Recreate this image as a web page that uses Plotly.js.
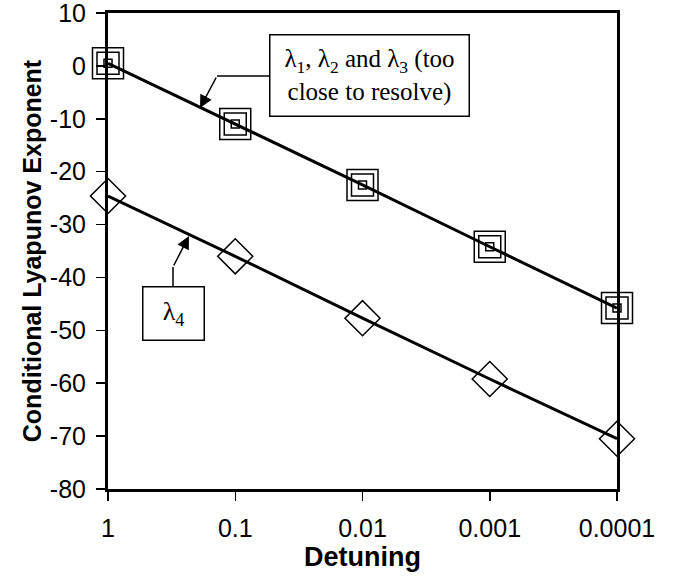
<!DOCTYPE html>
<html>
<head>
<meta charset="utf-8">
<script src="https://cdn.plot.ly/plotly-3.0.1.min.js"></script>
<style>
  html, body { margin: 0; padding: 0; background: #fff; }
  #chart { width: 685px; height: 577px; }
</style>
</head>
<body>
<div id="chart"></div>
<script>
// Data
const detuning = [1, 0.1, 0.01, 0.001, 0.0001];
const xTickLabels = ["1", "0.1", "0.01", "0.001", "0.0001"];
const yTickVals = [10, 0, -10, -20, -30, -40, -50, -60, -70, -80];
const yTickLabels = ["10", "0", "-10", "-20", "-30", "-40", "-50", "-60", "-70", "-80"];
const lambda1 = [0.5, -11.0, -22.5, -34.2, -45.8];
const lambda2 = [0.5, -11.0, -22.5, -34.2, -45.8];
const lambda3 = [0.5, -11.0, -22.5, -34.2, -45.8];
const lambda4 = [-24.6, -36.0, -47.7, -59.2, -70.5];

const lineStyle = {color: "#000", width: 3};

const traces = [
  {x: detuning, y: lambda4, name: "λ4", mode: "lines+markers", line: lineStyle, cliponaxis: false,
   marker: {symbol: "diamond-open", size: 27, color: "#000", line: {width: 1.5, color: "#000"}}},
  {x: detuning, y: lambda1, name: "λ1", mode: "lines+markers", line: lineStyle, cliponaxis: false,
   marker: {symbol: "square-open", size: 31, color: "#000", line: {width: 1.5, color: "#000"}}},
  {x: detuning, y: lambda2, name: "λ2", mode: "markers", cliponaxis: false,
   marker: {symbol: "square-open", size: 22, color: "#000", line: {width: 1.5, color: "#000"}}},
  {x: detuning, y: lambda3, name: "λ3", mode: "markers", cliponaxis: false,
   marker: {symbol: "square-open", size: 8, color: "#000", line: {width: 1.5, color: "#000"}}}
];

const sans = "Liberation Sans";
const serif = "Liberation Serif";

const layout = {
  width: 685, height: 577,
  margin: {l: 108, r: 68, t: 13, b: 88},
  paper_bgcolor: "#fff", plot_bgcolor: "#fff",
  showlegend: false,
  font: {family: sans, color: "#000", size: 24},
  xaxis: {
    type: "log", range: [0, -4],
    tickvals: detuning, ticktext: xTickLabels,
    ticks: "outside", ticklen: 9, tickwidth: 1.5, tickcolor: "#000",
    ticklabelstandoff: 6, ticklabeloverflow: "allow",
    showline: true, linewidth: 3, linecolor: "#000", mirror: true,
    showgrid: false, zeroline: false,
    tickfont: {family: sans, size: 25, color: "#000"},
    title: {text: "Detuning", font: {family: sans, size: 27, color: "#000", weight: "bold"}, standoff: 2}
  },
  yaxis: {
    range: [-80, 10], tickvals: yTickVals, ticktext: yTickLabels,
    ticks: "outside", ticklen: 9, tickwidth: 1.5, tickcolor: "#000",
    ticklabelstandoff: 5, ticklabeloverflow: "allow",
    showline: true, linewidth: 3, linecolor: "#000", mirror: true,
    showgrid: false, zeroline: false,
    tickfont: {family: sans, size: 25, color: "#000"},
    title: {text: "Conditional Lyapunov Exponent", font: {family: sans, size: 25, color: "#000", weight: "bold"}, standoff: 2}
  },
  shapes: [
    {type: "line", xref: "paper", yref: "paper", x0: 0.3183, x1: 0.2141, y0: 0.8676, y1: 0.8676,
     line: {color: "#000", width: 1.5}},
    {type: "line", xref: "paper", yref: "paper", x0: 0.1277, x1: 0.1277, y0: 0.4265, y1: 0.4664,
     line: {color: "#000", width: 1.5}}
  ],
  annotations: [
    {xref: "paper", yref: "paper", x: 0.5147, y: 0.8687, xanchor: "center", yanchor: "middle",
     text: "λ<sub>1</sub>, λ<sub>2</sub> and λ<sub>3</sub> (too<br>close to resolve)",
     showarrow: false, align: "center", width: 198, height: 80,
     bgcolor: "#fff", bordercolor: "#000", borderwidth: 1.5, borderpad: 0,
     font: {family: serif, size: 25, color: "#000"}},
    {xref: "paper", yref: "paper", x: 0.1287, y: 0.3687, xanchor: "center", yanchor: "middle",
     text: "λ<sub>4</sub>", showarrow: false, align: "center", width: 60, height: 52,
     bgcolor: "#fff", bordercolor: "#000", borderwidth: 1.5, borderpad: 0,
     font: {family: serif, size: 26, color: "#000"}},
    {xref: "paper", yref: "paper", x: 0.1807, y: 0.8004, text: "", showarrow: true,
     ax: 17, ay: -32, arrowhead: 2, arrowsize: 1.7, arrowwidth: 1.5, arrowcolor: "#000", standoff: 0},
    {xref: "paper", yref: "paper", x: 0.1591, y: 0.5315, text: "", showarrow: true,
     ax: -16, ay: 31, arrowhead: 2, arrowsize: 1.7, arrowwidth: 1.5, arrowcolor: "#000", standoff: 0}
  ]
};

Plotly.newPlot("chart", traces, layout, {displayModeBar: false, staticPlot: true});
</script>
</body>
</html>
